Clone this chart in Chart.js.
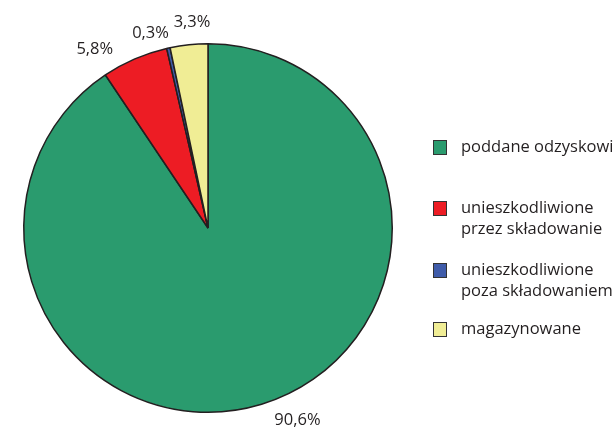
<!DOCTYPE html>
<html>
<head>
<meta charset="utf-8">
<script src="https://cdn.jsdelivr.net/npm/chart.js@4"></script>
<style>
  html, body { margin: 0; padding: 0; background: #fff; overflow: hidden; }
  #wrap { position: relative; width: 614px; height: 428px; }
</style>
</head>
<body>
<div id="wrap"><canvas id="pieChart" width="614" height="428"></canvas></div>
<script>
const categories = [
  "poddane odzyskowi",
  "unieszkodliwione przez składowanie",
  "unieszkodliwione poza składowaniem",
  "magazynowane",
];
const legendLines = [
  ["poddane odzyskowi"],
  ["unieszkodliwione", "przez składowanie"],
  ["unieszkodliwione", "poza składowaniem"],
  ["magazynowane"],
];
const shares = [90.6, 5.8, 0.3, 3.3];
const valueLabels = ["90,6%", "5,8%", "0,3%", "3,3%"];
const colors = ["#2a9b6e", "#ed1c24", "#3f5ba9", "#f0ed95"];

const FONT = "16.5px 'Open Sans', sans-serif";

// percent labels outside the slices, nudged in degrees / px like the original
const labelNudge = [
  { da: -8, dr: 28 },
  { da: -9, dr: 27 },
  { da: -4, dr: 19 },
  { da: 1.5, dr: 22 },
];

const outsideLabels = {
  id: "outsideLabels",
  afterDatasetsDraw(chart) {
    const ctx = chart.ctx;
    const arcs = chart.getDatasetMeta(0).data;
    ctx.save();
    ctx.font = FONT;
    ctx.fillStyle = "#231f20";
    ctx.textAlign = "center";
    ctx.textBaseline = "middle";
    arcs.forEach((arc, i) => {
      const n = labelNudge[i];
      const mid = (arc.startAngle + arc.endAngle) / 2 + (n.da * Math.PI) / 180;
      const r = arc.outerRadius + n.dr;
      ctx.fillText(valueLabels[i], arc.x + Math.cos(mid) * r, arc.y + Math.sin(mid) * r);
    });
    ctx.restore();
  },
};

const sideLegend = {
  id: "sideLegend",
  afterDraw(chart) {
    const ctx = chart.ctx;
    const rowTop = [140, 201, 263, 322];
    ctx.save();
    ctx.font = FONT;
    ctx.textBaseline = "middle";
    ctx.textAlign = "left";
    legendLines.forEach((lines, i) => {
      const y = rowTop[i];
      ctx.fillStyle = colors[i];
      ctx.fillRect(433, y, 14, 15);
      ctx.strokeStyle = "#333";
      ctx.lineWidth = 1;
      ctx.strokeRect(433.5, y + 0.5, 13, 14);
      ctx.fillStyle = "#231f20";
      lines.forEach((t, j) => ctx.fillText(t, 461, y + 7 + j * 21));
    });
    ctx.restore();
  },
};

new Chart(document.getElementById("pieChart"), {
  type: "pie",
  data: {
    labels: categories,
    datasets: [
      {
        data: shares,
        backgroundColor: colors,
        borderColor: "#231f20",
        borderWidth: 1.5,
      },
    ],
  },
  options: {
    responsive: false,
    animation: false,
    layout: { padding: { left: 23, top: 43, right: 221, bottom: 15 } },
    plugins: {
      legend: { display: false },
      tooltip: { enabled: false },
    },
  },
  plugins: [outsideLabels, sideLegend],
});
</script>
</body>
</html>
